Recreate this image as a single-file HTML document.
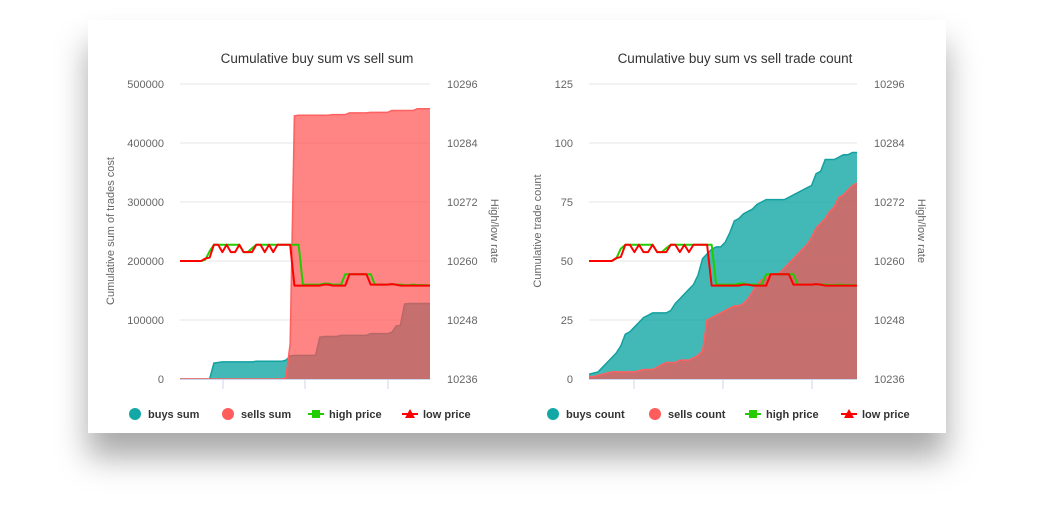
<!DOCTYPE html>
<html><head><meta charset="utf-8"><style>
body{margin:0;width:1038px;height:507px;background:#fff;overflow:hidden;font-family:"Liberation Sans",sans-serif}
#card{position:absolute;left:88px;top:20px;width:858px;height:413px;background:#fff;box-shadow:0 24px 30px rgba(0,0,0,0.34)}
svg{position:absolute;left:0;top:0}
text{font-family:"Liberation Sans",sans-serif}
</style></head><body>
<div id="card"></div>
<svg id="s" width="1038" height="507"></svg>
<script>
const sumBuys=[0,0,0,0,0,0,0,0,27,28,29,29,29,29,29,29,29,29,30,30,30,30,30,30,30,32,39,40,40,40,40,40,40,71,72,72,72,72,74,74,74,74,74,74,74,77,77,77,77,77,79,90,91,127,128,128,128,128,128,128];
const sumSells=[0,0,0,0,0,0,0,0,0,0,0,0,0,0,0,0,0,0,0,0,0,0,0,0,0,2,60,446,447,447,447,447,447,447,447,447,448,448,448,448,451,451,451,451,451,452,452,452,452,452,455,455,455,455,455,455,458,458,458,458];
const high1=[10260,10260,10260,10260,10260,10260,10260.3,10262,10263.3,10263.3,10263.3,10263.3,10263.3,10263.3,10263.3,10261.8,10261.8,10262.6,10263.3,10263.3,10263.3,10263.3,10263.3,10263.3,10263.3,10263.3,10263.3,10263.3,10263.3,10255.2,10255.2,10255.2,10255.2,10255.2,10255.4,10255.4,10255.2,10255.2,10255.2,10257.3,10257.3,10257.3,10257.3,10257.3,10257.3,10257.3,10255.2,10255.2,10255.2,10255.2,10255.3,10255.2,10255.2,10255.1,10255.1,10255.2,10255.1,10255.1,10255.1,10255];
const low1=[10260,10260,10260,10260,10260,10260,10260.5,10260.7,10263.3,10263.3,10261.8,10263.3,10261.8,10261.8,10263.3,10261.8,10261.8,10261.8,10263.3,10263.3,10261.8,10263.3,10261.8,10263.3,10263.3,10263.3,10263.3,10255,10255,10255,10255,10255,10255,10255,10255.2,10255.2,10255,10255,10255,10255,10257.3,10257.3,10257.3,10257.3,10257.3,10255.2,10255.2,10255.2,10255.2,10255.2,10255.3,10255.2,10255,10255,10255,10255,10255,10255,10255,10255];
const cntBuys=[2,2.5,3,5,7,9,11,14,19,20,22,24,26,27,28,28,28,28,29,32,34,36,38,40,44,51,53,55,56,56,58,62,67,68,70,71,72,74,75,76,76,76,76,76,77,78,79,80,81,82,87,88,93,93,93,94,95,95,96,96];
const cntSells=[1,1,1.5,2,2.5,3,3,3,3,3,3,3.5,4,4,4,5,6,7,7,7,8,8,8,9,10,12,25,26,27,28,29,30,31,31,32,34,37,40,42,43,44,44,45,47,49,51,53,55,57,60,64,66,68,71,73,77,78,80,82,83];
const high2=[10260,10260,10260,10260,10260,10260,10260.5,10262.5,10263.3,10263.3,10263.3,10263.3,10263.3,10263.3,10263.3,10261.8,10261.8,10262.6,10263.3,10263.3,10263.3,10263.3,10263.3,10263.3,10263.3,10263.3,10263.3,10263.3,10255.2,10255.2,10255.2,10255.2,10255.2,10255.4,10255.4,10255.2,10255.2,10255.2,10255.2,10257.3,10257.3,10257.3,10257.3,10257.3,10257.3,10257.3,10255.2,10255.2,10255.2,10255.2,10255.3,10255.2,10255.2,10255.1,10255.1,10255.2,10255.1,10255.1,10255.1,10255];
const low2=[10260,10260,10260,10260,10260,10260,10260.6,10260.8,10263.3,10263.3,10261.8,10263.3,10261.8,10261.8,10263.3,10261.8,10261.8,10261.8,10263.3,10263.3,10261.8,10263.3,10261.8,10263.3,10263.3,10263.3,10263.3,10255,10255,10255,10255,10255,10255,10255,10255.2,10255.2,10255,10255,10255,10255,10257.3,10257.3,10257.3,10257.3,10257.3,10255.2,10255.2,10255.2,10255.2,10255.2,10255.3,10255.2,10255,10255,10255,10255,10255,10255,10255,10255];
const ticks1=["0","100000","200000","300000","400000","500000"];
const ticks2=["0","25","50","75","100","125"];
const priceTicks=["10236","10248","10260","10272","10284","10296"];
const NS="http://www.w3.org/2000/svg";
const S=document.getElementById('s');
function el(t,a,p){const e=document.createElementNS(NS,t);for(const k in a)e.setAttribute(k,a[k]);(p||S).appendChild(e);return e;}
function chart(o){
  const g=el('g',{});
  
  
  const top=84,bot=379,n=o.buys.length;
  const X=i=>o.x0+(o.x1-o.x0)*i/(n-1);
  const Y=v=>bot-(bot-top)*v/o.max;
  const P=v=>bot-(bot-top)*(v-10236)/60;
  const t=el('text',{x:(o.x0+o.x1)/2+12,y:63,'text-anchor':'middle','font-size':13.5,fill:'#333'},g);t.textContent=o.title;
  
  o.ticks.forEach((s,i)=>{const y=bot-(bot-top)*i/5;
    if(i>0)el('line',{x1:o.x0,x2:o.x1,y1:y,y2:y,stroke:'#e6e6e6'},g);
    const a=el('text',{x:o.x0-16,y:y+4,'text-anchor':'end','font-size':11,fill:'#666'},g);a.textContent=s;
    
    const b=el('text',{x:o.x1+17,y:y+4,'font-size':11,fill:'#666'},g);b.textContent=priceTicks[i];
    });
  const yl=el('text',{transform:`translate(${o.ylx},231) rotate(-90)`,'text-anchor':'middle','font-size':11,fill:'#666'},g);yl.textContent=o.ylabel;
  
  const yr=el('text',{transform:`translate(${o.x1+61},231) rotate(90)`,'text-anchor':'middle','font-size':11,fill:'#666'},g);yr.textContent='High/low rate';
  
  function area(arr,fill,stroke,name){
    let d=`M${X(0)},${bot}`;arr.forEach((v,i)=>d+=`L${X(i)},${Y(v)}`);d+=`L${X(n-1)},${bot}Z`;
    const a=el('path',{d,fill,stroke:'none'},g);
    let l='';arr.forEach((v,i)=>l+=(i?'L':'M')+X(i)+','+Y(v));
    el('path',{d:l,fill:'none',stroke,'stroke-width':1.5},g);
  }
  area(o.buys,'rgba(19,168,165,0.8)','#13a0a0',o.bname);
  area(o.sells,'rgba(255,80,80,0.7)','#ff6060',o.sname);
  function line(arr,c,name){let l='';arr.forEach((v,i)=>l+=(i?'L':'M')+X(i)+','+P(v));
    const p=el('path',{d:l,fill:'none',stroke:c,'stroke-width':2,'stroke-linejoin':'round'},g);}
  line(o.high,'#22cc00','high-price-line');line(o.low,'#ff0000','low-price-line');
  el('line',{x1:o.x0,x2:o.x1,y1:bot+0.5,y2:bot+0.5,stroke:'#ccd6eb'},g);
  o.xt.forEach(x=>el('line',{x1:x,x2:x,y1:bot,y2:bot+10,stroke:'#ccd6eb'},g));
  const L=[[o.lx[0],'circle','#13a8a5',o.bname],[o.lx[1],'circle','#ff5c5c',o.sname],[o.lx[2],'sq','#22cc00','high price'],[o.lx[3],'tri','#ff0000','low price']];
  L.forEach(([x,k,c,s])=>{const lg=el('g',{},g);
    if(k=='circle')el('circle',{cx:x+6,cy:414,r:6,fill:c},lg);
    else{el('line',{x1:x-2,x2:x+14,y1:414,y2:414,stroke:c,'stroke-width':2},lg);
      if(k=='sq')el('rect',{x:x+2,y:410,width:8,height:8,fill:c},lg);else el('path',{d:`M${x+6},409L${x+11},418L${x+1},418Z`,fill:c},lg);}
    const tx=el('text',{x:x+19,y:418,'font-size':11,'font-weight':'bold',fill:'#333'},lg);tx.textContent=s;});
}
chart({name:'sum-chart',title:'Cumulative buy sum vs sell sum',x0:180,x1:430,max:500,buys:sumBuys,sells:sumSells,high:high1,low:low1,ticks:ticks1,ylabel:'Cumulative sum of trades cost',ylx:114,bname:'buys sum',sname:'sells sum',xt:[223,305,388],lx:[129,222,310,404]});
chart({name:'count-chart',title:'Cumulative buy sum vs sell trade count',x0:589,x1:857,max:125,buys:cntBuys,sells:cntSells,high:high2,low:low2,ticks:ticks2,ylabel:'Cumulative trade count',ylx:541,bname:'buys count',sname:'sells count',xt:[634,723,812],lx:[547,649,747,843]});
</script>
</body></html>
